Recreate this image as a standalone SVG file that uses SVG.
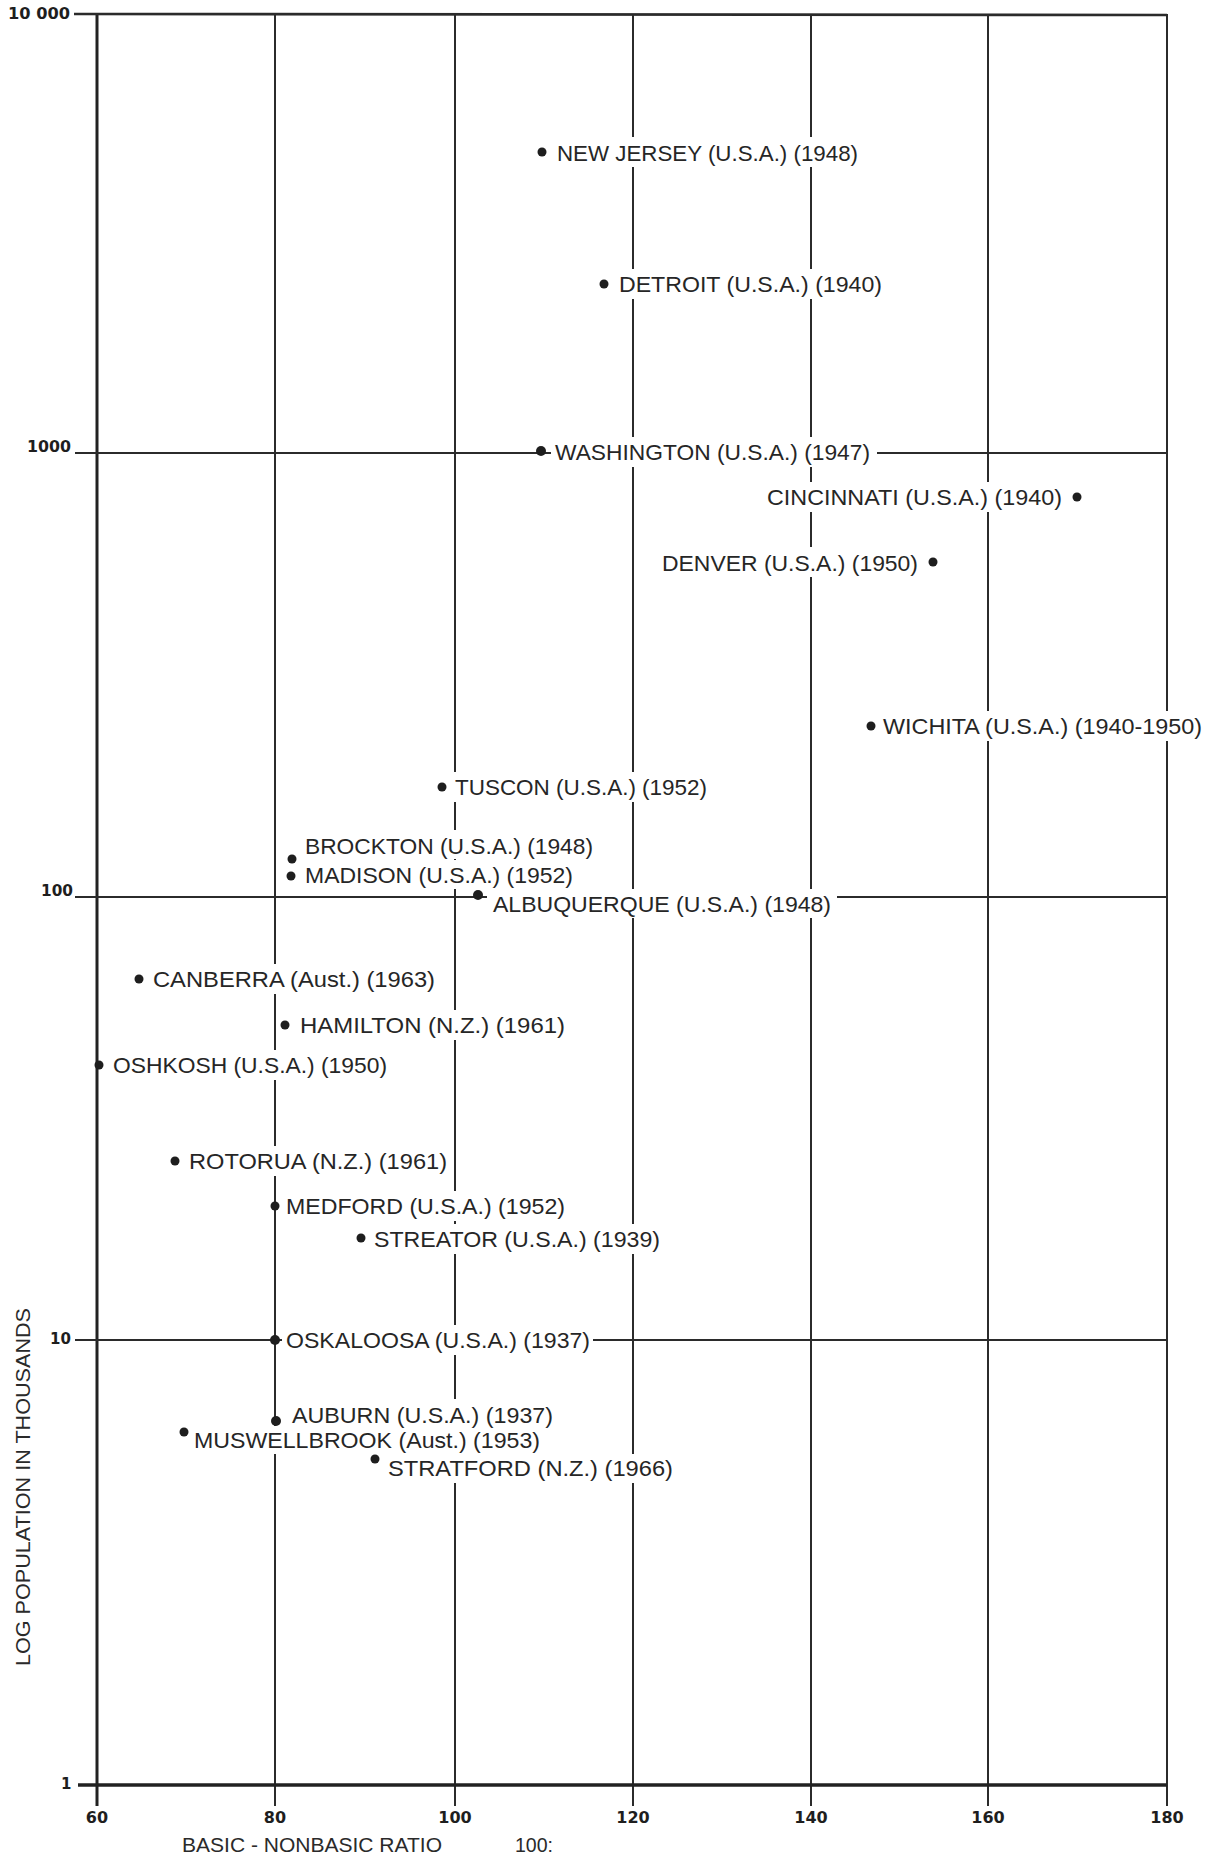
<svg xmlns="http://www.w3.org/2000/svg" width="1216" height="1857" viewBox="0 0 1216 1857">
  <style>
    .grid { stroke: #2b2b2b; stroke-width: 2; fill: none; }
    .axis { stroke: #222; stroke-width: 3; fill: none; }
    .ko { fill: #ffffff; }
    .dot { fill: #1e1e1e; }
    .lbl { font-family: "Liberation Sans", Arial, sans-serif; font-size: 22.5px; fill: #262626; }
    .tick { font-family: "DejaVu Sans", "Liberation Sans", sans-serif; font-weight: bold; font-size: 15px; fill: #1e1e1e; }
    .xt { font-family: "DejaVu Sans", "Liberation Sans", sans-serif; font-weight: bold; font-size: 16px; fill: #1e1e1e; text-anchor: middle; }
    .cap { font-family: "Liberation Sans", Arial, sans-serif; font-size: 21px; fill: #2a2a2a; }
  </style>
  <rect width="1216" height="1857" fill="#ffffff"/>

  <!-- grid: log population (decades) against basic-nonbasic ratio -->
  <g id="grid">
    <!-- vertical lines 60..180, running past the base line as ticks -->
    <line class="axis" x1="97" y1="14" x2="97" y2="1806"/>
    <line class="grid" x1="275" y1="14" x2="275" y2="1806"/>
    <line class="grid" x1="455" y1="14" x2="455" y2="1806"/>
    <line class="grid" x1="633" y1="14" x2="633" y2="1806"/>
    <line class="grid" x1="811" y1="14" x2="811" y2="1806"/>
    <line class="grid" x1="988" y1="14" x2="988" y2="1806"/>
    <line class="grid" x1="1167" y1="14" x2="1167" y2="1806"/>
    <!-- horizontal decades -->
    <line class="grid" x1="74" y1="14" x2="1167" y2="15" style="stroke-width:2.6"/>
    <line class="grid" x1="75" y1="453" x2="1167" y2="453"/>
    <line class="grid" x1="75" y1="897" x2="1167" y2="897"/>
    <line class="grid" x1="75" y1="1340" x2="1167" y2="1340"/>
    <line class="axis" x1="78" y1="1785" x2="1167" y2="1785" style="stroke-width:3.5"/>
  </g>

  <!-- y axis values -->
  <g id="y-ticks">
    <text class="tick" x="8" y="19" textLength="62" lengthAdjust="spacingAndGlyphs">10 000</text>
    <text class="tick" x="27" y="452" textLength="44" lengthAdjust="spacingAndGlyphs">1000</text>
    <text class="tick" x="41" y="896" textLength="32" lengthAdjust="spacingAndGlyphs">100</text>
    <text class="tick" x="50" y="1344">10</text>
    <text class="tick" x="61" y="1789">1</text>
  </g>

  <!-- x axis values -->
  <g id="x-ticks">
    <text class="xt" x="97" y="1823">60</text>
    <text class="xt" x="275" y="1823">80</text>
    <text class="xt" x="455" y="1823">100</text>
    <text class="xt" x="633" y="1823">120</text>
    <text class="xt" x="811" y="1823">140</text>
    <text class="xt" x="988" y="1823">160</text>
    <text class="xt" x="1167" y="1823">180</text>
  </g>

  <!-- axis captions -->
  <g id="captions">
    <text class="cap" transform="translate(30,1487) rotate(-90)" text-anchor="middle" textLength="358" lengthAdjust="spacingAndGlyphs">LOG POPULATION IN THOUSANDS</text>
    <text class="cap" x="182" y="1852" textLength="260" lengthAdjust="spacingAndGlyphs">BASIC - NONBASIC RATIO</text>
    <text class="cap" x="515" y="1852" textLength="38" lengthAdjust="spacingAndGlyphs">100:</text>
  </g>

  <!-- cities: each label sits on a white knockout that breaks the grid behind it -->
  <g id="points">
    <g id="new-jersey">
      <rect class="ko" x="553" y="137" width="309" height="30"/>
      <circle class="dot" cx="542" cy="152" r="4.5"/>
      <text class="lbl" x="557" y="161" textLength="301" lengthAdjust="spacingAndGlyphs">NEW JERSEY (U.S.A.) (1948)</text>
    </g>
    <g id="detroit">
      <rect class="ko" x="615" y="269" width="271" height="30"/>
      <circle class="dot" cx="604" cy="284" r="4.5"/>
      <text class="lbl" x="619" y="292" textLength="263" lengthAdjust="spacingAndGlyphs">DETROIT (U.S.A.) (1940)</text>
    </g>
    <g id="washington">
      <rect class="ko" x="551" y="437" width="326" height="30"/>
      <circle class="dot" cx="541" cy="451" r="5"/>
      <text class="lbl" x="555" y="460" textLength="315" lengthAdjust="spacingAndGlyphs">WASHINGTON (U.S.A.) (1947)</text>
    </g>
    <g id="cincinnati">
      <rect class="ko" x="763" y="482" width="303" height="30"/>
      <circle class="dot" cx="1077" cy="497" r="4.5"/>
      <text class="lbl" x="767" y="505" textLength="295" lengthAdjust="spacingAndGlyphs">CINCINNATI (U.S.A.) (1940)</text>
    </g>
    <g id="denver">
      <rect class="ko" x="658" y="547" width="264" height="30"/>
      <circle class="dot" cx="933" cy="562" r="4.5"/>
      <text class="lbl" x="662" y="571" textLength="256" lengthAdjust="spacingAndGlyphs">DENVER (U.S.A.) (1950)</text>
    </g>
    <g id="wichita">
      <rect class="ko" x="879" y="711" width="327" height="30"/>
      <circle class="dot" cx="871" cy="726" r="4.5"/>
      <text class="lbl" x="883" y="734" textLength="319" lengthAdjust="spacingAndGlyphs">WICHITA (U.S.A.) (1940-1950)</text>
    </g>
    <g id="tuscon">
      <rect class="ko" x="451" y="772" width="260" height="30"/>
      <circle class="dot" cx="442" cy="787" r="4.5"/>
      <text class="lbl" x="455" y="795" textLength="252" lengthAdjust="spacingAndGlyphs">TUSCON (U.S.A.) (1952)</text>
    </g>
    <g id="brockton">
      <rect class="ko" x="301" y="830" width="296" height="29"/>
      <circle class="dot" cx="292" cy="859" r="4.5"/>
      <text class="lbl" x="305" y="854" textLength="288" lengthAdjust="spacingAndGlyphs">BROCKTON (U.S.A.) (1948)</text>
    </g>
    <g id="madison">
      <rect class="ko" x="301" y="860" width="276" height="29"/>
      <circle class="dot" cx="291" cy="876" r="4.5"/>
      <text class="lbl" x="305" y="883" textLength="268" lengthAdjust="spacingAndGlyphs">MADISON (U.S.A.) (1952)</text>
    </g>
    <g id="albuquerque">
      <rect class="ko" x="487" y="889" width="350" height="29"/>
      <circle class="dot" cx="478" cy="895" r="5"/>
      <text class="lbl" x="493" y="912" textLength="338" lengthAdjust="spacingAndGlyphs">ALBUQUERQUE (U.S.A.) (1948)</text>
    </g>
    <g id="canberra">
      <rect class="ko" x="149" y="964" width="290" height="30"/>
      <circle class="dot" cx="139" cy="979" r="4.5"/>
      <text class="lbl" x="153" y="987" textLength="282" lengthAdjust="spacingAndGlyphs">CANBERRA (Aust.) (1963)</text>
    </g>
    <g id="hamilton">
      <rect class="ko" x="296" y="1010" width="273" height="30"/>
      <circle class="dot" cx="285" cy="1025" r="4.5"/>
      <text class="lbl" x="300" y="1033" textLength="265" lengthAdjust="spacingAndGlyphs">HAMILTON (N.Z.) (1961)</text>
    </g>
    <g id="oshkosh">
      <rect class="ko" x="108" y="1050" width="283" height="30"/>
      <circle class="dot" cx="99" cy="1065" r="4.5"/>
      <text class="lbl" x="113" y="1073" textLength="274" lengthAdjust="spacingAndGlyphs">OSHKOSH (U.S.A.) (1950)</text>
    </g>
    <g id="rotorua">
      <rect class="ko" x="185" y="1146" width="266" height="30"/>
      <circle class="dot" cx="175" cy="1161" r="4.5"/>
      <text class="lbl" x="189" y="1169" textLength="258" lengthAdjust="spacingAndGlyphs">ROTORUA (N.Z.) (1961)</text>
    </g>
    <g id="medford">
      <rect class="ko" x="282" y="1191" width="287" height="30"/>
      <circle class="dot" cx="275" cy="1206" r="4.5"/>
      <text class="lbl" x="286" y="1214" textLength="279" lengthAdjust="spacingAndGlyphs">MEDFORD (U.S.A.) (1952)</text>
    </g>
    <g id="streator">
      <rect class="ko" x="370" y="1224" width="294" height="30"/>
      <circle class="dot" cx="361" cy="1238" r="4.5"/>
      <text class="lbl" x="374" y="1247" textLength="286" lengthAdjust="spacingAndGlyphs">STREATOR (U.S.A.) (1939)</text>
    </g>
    <g id="oskaloosa">
      <rect class="ko" x="282" y="1325" width="311" height="30"/>
      <circle class="dot" cx="275" cy="1340" r="5"/>
      <text class="lbl" x="286" y="1348" textLength="304" lengthAdjust="spacingAndGlyphs">OSKALOOSA (U.S.A.) (1937)</text>
    </g>
    <g id="muswellbrook">
      <rect class="ko" x="190" y="1426" width="354" height="28"/>
      <circle class="dot" cx="184" cy="1432" r="4.5"/>
      <text class="lbl" x="194" y="1448" textLength="346" lengthAdjust="spacingAndGlyphs">MUSWELLBROOK (Aust.) (1953)</text>
    </g>
    <g id="auburn">
      <rect class="ko" x="288" y="1399" width="269" height="27"/>
      <circle class="dot" cx="276" cy="1421" r="5"/>
      <text class="lbl" x="292" y="1423" textLength="261" lengthAdjust="spacingAndGlyphs">AUBURN (U.S.A.) (1937)</text>
    </g>
    <g id="stratford">
      <rect class="ko" x="384" y="1454" width="293" height="29"/>
      <circle class="dot" cx="375" cy="1459" r="4.5"/>
      <text class="lbl" x="388" y="1476" textLength="285" lengthAdjust="spacingAndGlyphs">STRATFORD (N.Z.) (1966)</text>
    </g>
  </g>
</svg>
